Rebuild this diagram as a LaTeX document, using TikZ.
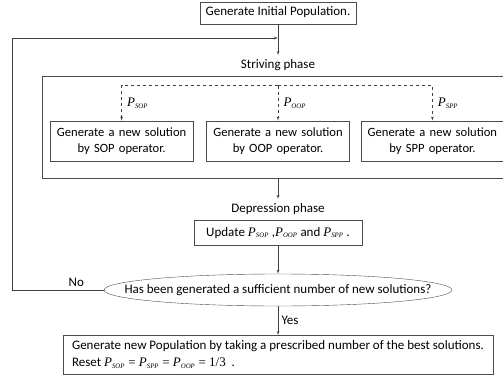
\documentclass[tikz,border=0pt]{standalone}
\usepackage{graphicx}
\usepackage{fontspec}
\setmainfont{Carlito}
\newfontfamily\tmfont{Liberation Serif}
\usetikzlibrary{shapes,arrows}
\usetikzlibrary{positioning}
\tikzset{auto,>=latex', node distance=1cm, font=\fontsize{13}{16}\selectfont}
\tikzstyle{block} = [draw=black!70, fill=white, rectangle, minimum height=22pt, inner sep=2pt, text height=9pt, text depth=3pt, align=center]
\tikzstyle{opbox} = [draw=black!70, fill=white, rectangle, minimum height=40pt, minimum width=143pt, text width=138pt, inner sep=2pt, align=center, font=\fontsize{12.6}{16}\selectfont]
\tikzstyle{phase} = [inner sep=4pt, text height=9pt, text depth=3pt]
\tikzstyle{test} = [draw=black!70, ellipse, minimum width=348pt, minimum height=32pt, inner sep=0pt]
\tikzstyle{final} = [draw=black!70, rectangle, minimum width=430pt, minimum height=39pt, inner sep=2pt, align=left, font=\fontsize{13}{17}\selectfont]
\tikzstyle{flow} = [->, draw=black!75]
\tikzstyle{branch} = [flow, dashed]
\newcommand{\prob}[1]{{\tmfont\itshape P}\textsubscript{\tmfont\itshape\scalebox{.75}{#1}}}
\newcommand{\eqs}{{\tmfont\ =\ }}

\begin{document}
\begin{tikzpicture}
		\useasboundingbox (0,0) rectangle (503pt,-380pt);

		\node [block, minimum width=156pt] at (278pt,-13pt) (init) {Generate Initial Population.};
		\node [phase, below=31pt of init] (strive) {Striving phase};
		\node [draw=black!70, minimum width=472pt, minimum height=102pt, below=0pt of strive] (stage) {};

		\node [opbox, below=45pt of stage.north] (oop) {Generate a new solution\\by OOP operator.};
		\node [opbox, left=13pt of oop] (sop) {Generate a new solution\\by SOP operator.};
		\node [opbox, right=11pt of oop] (spp) {Generate a new solution\\by SPP operator.};
		\coordinate [above=35pt of oop.north] (fork);

		\node [phase, below=21pt of stage] (depress) {Depression phase};
		\node [block, minimum width=168pt, minimum height=25pt, below=1pt of depress] (update) {Update \prob{SOP} ,\prob{OOP} and \prob{SPP} .};
		\node [test, below=28pt of update] (check) {\makebox[0pt]{Has been generated a sufficient number of new solutions?}};
		\node [final, below=29pt of check] (reset) {Generate new Population by taking a prescribed number of the best solutions.\\Reset \prob{SOP}\eqs\prob{SPP}\eqs\prob{OOP}\eqs{\tmfont 1/3} \ .};

		\coordinate (back) at (12pt,-38pt);
		\coordinate (join) at (init |- back);

		\draw [flow] (init) -- (strive);
		\draw [branch] (fork) -| node[pos=0.75, right, xshift=2pt] {\prob{SOP}} (sop);
		\draw [branch] (fork) -- node[right, xshift=2pt] {\prob{OOP}} (oop);
		\draw [branch] (fork) -| node[pos=0.75, right, xshift=2pt] {\prob{SPP}} (spp);
		\draw [flow] (stage) -- (depress);
		\draw [flow] (update) -- (check);
		\draw [flow] (check) -- node[right] {Yes} (reset);
		\draw [flow] (check) -| node[pos=0.15, above] {No} (back) -- (join);
	\end{tikzpicture}
\end{document}
